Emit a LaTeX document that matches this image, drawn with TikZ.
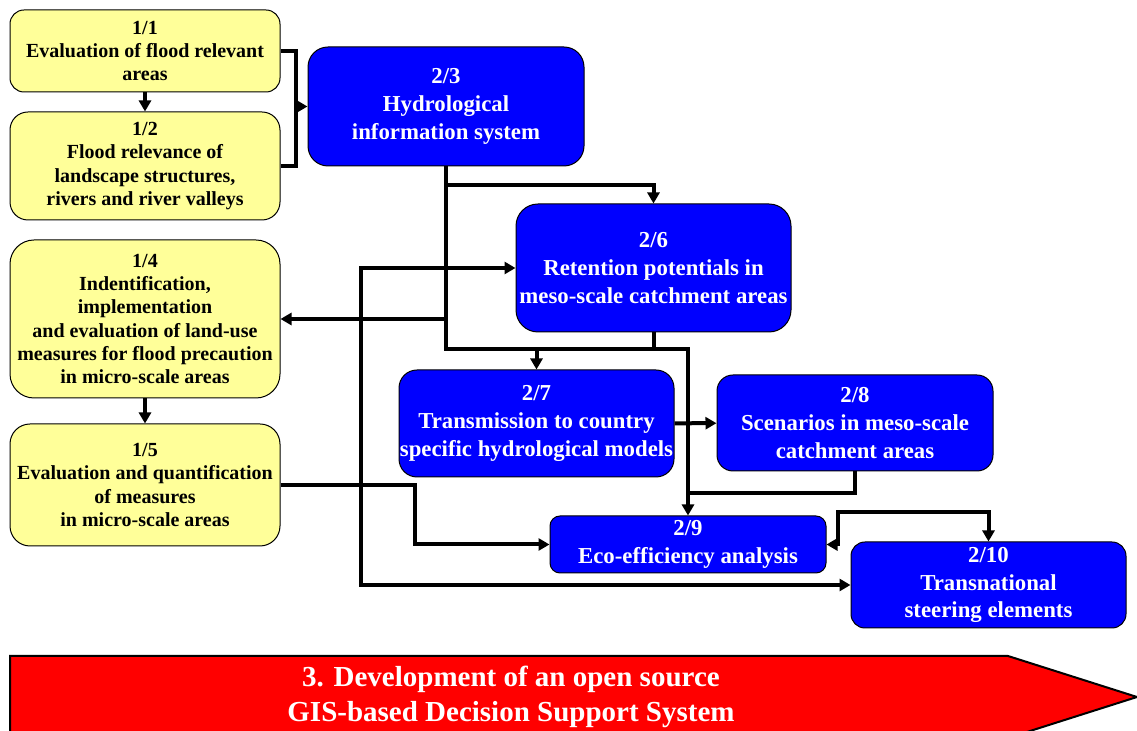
\documentclass[tikz,border=0pt]{standalone}
\usepackage{fontspec}
\setmainfont{Liberation Serif}
\usetikzlibrary{arrows.meta}
\definecolor{measureyellow}{RGB}{255,255,153}
\definecolor{hisblue}{RGB}{0,0,255}
\definecolor{dssred}{RGB}{255,0,0}
\tikzset{
  yellowbox/.style={draw=black, line width=0.5pt, fill=measureyellow, rounded corners=#1,
    inner sep=0pt, align=center, minimum width=135pt, font=\fontsize{10}{11.6}\selectfont\bfseries},
  bluebox/.style={draw=black, line width=0.5pt, fill=hisblue, text=white, rounded corners=#1,
    inner sep=0pt, align=center, font=\fontsize{11.4}{13.8}\selectfont\bfseries},
  trunk/.style={line width=2pt},
  conn/.style={line width=2pt, -{Triangle[length=5.5pt,width=6pt]}},
  biconn/.style={line width=2pt, {Triangle[length=5.5pt,width=6pt]}-{Triangle[length=5.5pt,width=6pt]}}
}
\begin{document}
\begin{tikzpicture}[x=0.5pt, y=-0.5pt]
  \useasboundingbox (0,0) rectangle (1137,731);

  % Work package 1 (yellow)
  \node[yellowbox=7pt, minimum height=41pt] (n11) at (145,51)
    {1/1\\Evaluation of flood relevant\\areas};
  \node[yellowbox=9pt, minimum height=54pt] (n12) at (145,166)
    {1/2\\Flood relevance of\\landscape structures,\\rivers and river valleys};
  \node[yellowbox=12pt, minimum height=79pt] (n14) at (145,319)
    {1/4\\Indentification,\\implementation\\and evaluation of land-use\\measures for flood precaution\\in micro-scale areas};
  \node[yellowbox=10pt, minimum height=61pt] (n15) at (145,485)
    {1/5\\Evaluation and quantification\\of measures\\in micro-scale areas};

  % Work package 2 (blue)
  \node[bluebox=10pt, minimum width=138pt, minimum height=59.5pt] (n23) at (446,106.5)
    {2/3\\Hydrological\\information system};
  \node[bluebox=11pt, minimum width=137.5pt, minimum height=64pt] (n26) at (653.5,268)
    {2/6\\Retention potentials in\\meso-scale catchment areas};
  \node[bluebox=9pt, minimum width=137.5pt, minimum height=53.5pt] (n27) at (536.5,423.5)
    {2/7\\Transmission to country\\specific hydrological models};
  \node[bluebox=8pt, minimum width=138pt, minimum height=48pt] (n28) at (855,423)
    {2/8\\Scenarios in meso-scale\\catchment areas};
  \node[bluebox=5pt, minimum width=138pt, minimum height=28.5pt] (n29) at (688,544.5)
    {2/9\\Eco-efficiency analysis};
  \node[bluebox=7pt, minimum width=137.5pt, minimum height=43pt] (n210) at (988.5,585)
    {2/10\\Transnational\\steering elements};

  % Work package 3 (red arrow)
  \draw[line width=1pt, fill=dssred] (10,656) -- (1008,656) -- (1137,697) -- (1008,738) -- (10,738) -- cycle;
  \node[text=white, align=center, font=\fontsize{14.5}{17.5}\selectfont\bfseries] (dss) at (511,697)
    {3. Development of an open source\\GIS-based Decision Support System};

  % Junctions
  \coordinate (brk) at (296,106.5);
  \coordinate (j1) at (446,185);
  \coordinate (j2) at (446,319);
  \coordinate (j3) at (446,349);
  \coordinate (j4) at (688,349);
  \coordinate (j5) at (688,493);
  \coordinate (c15) at (415,544.5);
  \coordinate (cl) at (361,585);
  \coordinate (c910) at (838,512);

  % Connectors
  \draw[conn] (n11) -- (n12);
  \draw[conn] (n14) -- (n15);
  \draw[trunk] (n11.east) -| (brk) |- (n12.east);
  \draw[conn] (brk) -- (n23.west);
  \draw[conn] (n23.south) -- (j3) -| (n27.north);
  \draw[trunk] (j3) -- (j4);
  \draw[conn] (j1) -| (n26.north);
  \draw[conn] (j2) -- (n14.east);
  \draw[conn] (n26.south) |- (j4) -- (n29.north);
  \draw[trunk] (n28.south) |- (j5);
  \draw[conn] (n27) -- (n28);
  \draw[conn] (n15.east) -| (c15) -- (n29.west);
  \draw[biconn] (n26.west) -| (cl) -- (n210.west);
  \draw[biconn] (n29.east) -| (c910) -| (n210.north);
\end{tikzpicture}
\end{document}
